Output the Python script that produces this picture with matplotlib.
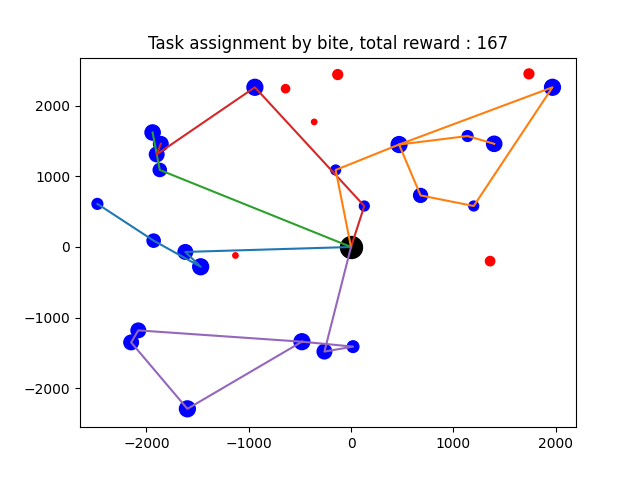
import matplotlib
matplotlib.use('Agg')
import matplotlib.pyplot as plt

depot = (0, 0)

# visited tasks (x, y, size)
task_x = [-1620, -1470, -1930, -2480, -1870, -1940, -1900, -1860, 130, -940, -150, 470, 680, 1200, 1970, 1140, 1400, -260, 20, -480, -2080, -2150, -1600]
task_y = [-70, -280, 90, 610, 1090, 1620, 1310, 1460, 580, 2260, 1090, 1450, 730, 580, 2260, 1570, 1460, -1480, -1410, -1340, -1180, -1350, -2290]
task_s = [110, 130, 90, 60, 90, 120, 110, 110, 50, 130, 50, 130, 100, 50, 130, 60, 120, 110, 70, 130, 110, 110, 130]

# unassigned tasks
miss_x = [-130, -640, -360, -1130, 1360, 1740]
miss_y = [2440, 2240, 1770, -120, -200, 2450]
miss_s = [50, 35, 15, 15, 45, 50]

routes = [
    [(0, 0), (-1620, -70), (-1470, -280), (-1930, 90), (-2480, 610)],
    [(0, 0), (-1870, 1090), (-1940, 1620)],
    [(0, 0), (130, 580), (-940, 2260), (-1900, 1310), (-1860, 1460)],
    [(0, 0), (-150, 1090), (470, 1450), (680, 730), (1200, 580), (1970, 2260), (470, 1450), (1140, 1570), (1400, 1460)],
    [(0, 0), (-260, -1480), (20, -1410), (-480, -1340), (-2080, -1180), (-2150, -1350), (-1600, -2290), (-480, -1340)],
]
colors = ['tab:blue', 'tab:green', 'tab:red', 'tab:orange', 'tab:purple']

fig, ax = plt.subplots(figsize=(6.4, 4.8), dpi=100)
ax.scatter(task_x, task_y, s=task_s, c='blue')
ax.scatter(miss_x, miss_y, s=miss_s, c='red')
ax.scatter([depot[0]], [depot[1]], s=250, c='black', zorder=1)
for r, c in zip(routes, colors):
    xs = [p[0] for p in r]
    ys = [p[1] for p in r]
    ax.plot(xs, ys, color=c, zorder=2)
ax.set_xlim(-2650, 2200)
ax.set_ylim(-2550, 2680)
ax.set_title('Task assignment by bite, total reward : 167')
fig.savefig('out.png')
